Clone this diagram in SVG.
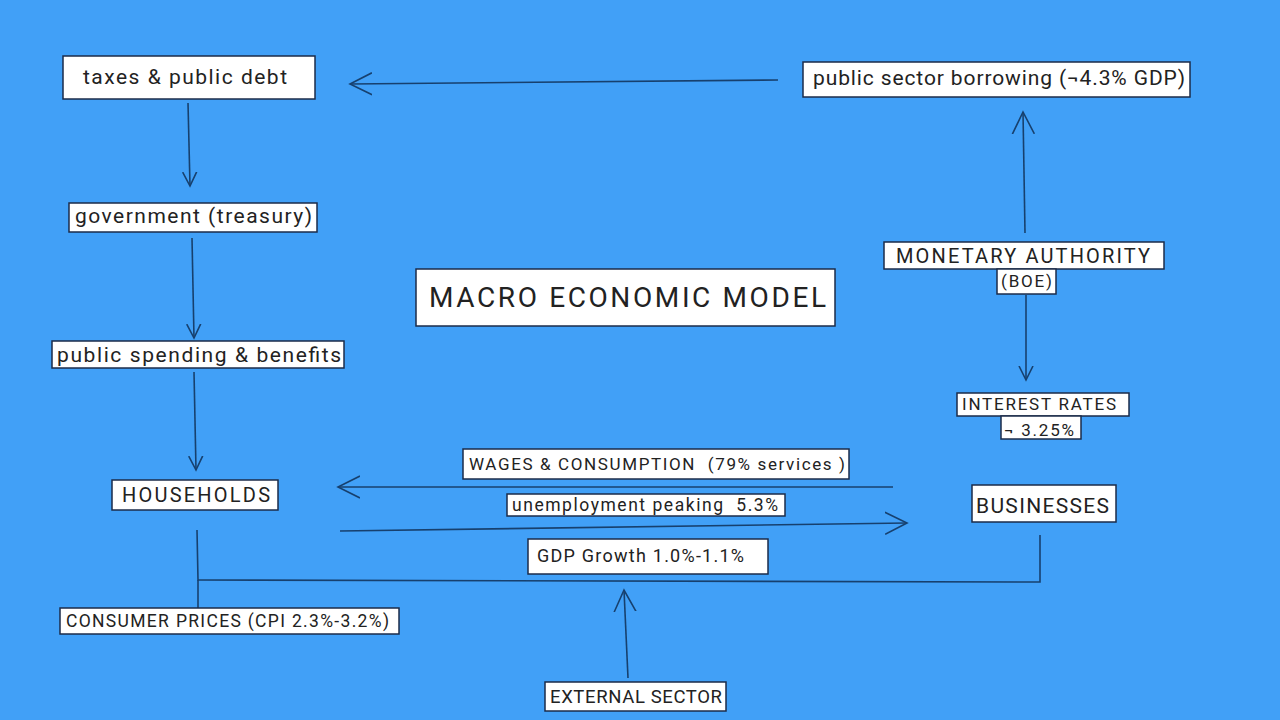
<svg xmlns="http://www.w3.org/2000/svg" width="1280" height="720" viewBox="0 0 1280 720">
<style>
.box{fill:#fff;stroke:#1b2b4a;stroke-width:1.5}
.t{font-family:Roboto,"Liberation Sans",sans-serif;fill:#222}
.c{fill:none;stroke:#17406e;stroke-width:1.6}
</style>
<defs>
<marker id="big" markerUnits="userSpaceOnUse" markerWidth="30" markerHeight="30" refX="22" refY="12" orient="auto" viewBox="0 0 30 24">
<path d="M0,1 L22,12 L0,23" fill="none" stroke="#17406e" stroke-width="1.6"/>
</marker>
<marker id="sm" markerUnits="userSpaceOnUse" markerWidth="20" markerHeight="20" refX="14" refY="8" orient="auto" viewBox="0 0 20 16">
<path d="M0,1 L14,8 L0,15" fill="none" stroke="#17406e" stroke-width="1.6"/>
</marker>
</defs>
<rect width="1280" height="720" fill="#41a0f7"/>

<g id="connectors">
<line class="c" x1="778" y1="80" x2="350" y2="84" marker-end="url(#big)"/>
<line class="c" x1="188" y1="103" x2="190" y2="186" marker-end="url(#sm)"/>
<line class="c" x1="192" y1="238" x2="194" y2="338" marker-end="url(#sm)"/>
<line class="c" x1="194" y1="372" x2="196" y2="470" marker-end="url(#sm)"/>
<line class="c" x1="1025" y1="233" x2="1023" y2="112" marker-end="url(#big)"/>
<line class="c" x1="1026" y1="295" x2="1026" y2="380" marker-end="url(#sm)"/>
<line class="c" x1="893" y1="487" x2="338" y2="487" marker-end="url(#big)"/>
<line class="c" x1="340" y1="531" x2="907" y2="523" marker-end="url(#big)"/>
<polyline class="c" points="197,530 198,580 1040,582 1040,535"/>
<line class="c" x1="198" y1="580" x2="198" y2="608" stroke-width="1"/>
<line class="c" x1="628" y1="678" x2="624" y2="590" marker-end="url(#big)"/>
</g>

<g id="taxes">
<rect class="box" x="63" y="56" width="252" height="43"/>
<text class="t" x="83" y="84" font-size="21" textLength="204" lengthAdjust="spacing">taxes &amp; public debt</text>
</g>
<g id="government">
<rect class="box" x="69" y="203" width="248" height="29"/>
<text class="t" x="75" y="223" font-size="21" textLength="237" lengthAdjust="spacing">government (treasury)</text>
</g>
<g id="spending">
<rect class="box" x="52" y="341" width="292" height="27"/>
<text class="t" x="57" y="362" font-size="21" textLength="284" lengthAdjust="spacing">public spending &amp; benefits</text>
</g>
<g id="households">
<rect class="box" x="112" y="480" width="166" height="30"/>
<text class="t" x="122" y="502" font-size="20" textLength="148" lengthAdjust="spacing">HOUSEHOLDS</text>
</g>
<g id="title">
<rect class="box" x="416" y="269" width="419" height="57"/>
<text class="t" x="429" y="307" font-size="28" textLength="397" lengthAdjust="spacing">MACRO ECONOMIC MODEL</text>
</g>
<g id="borrowing">
<rect class="box" x="803" y="62" width="387" height="35"/>
<text class="t" x="813" y="85" font-size="21" textLength="372" lengthAdjust="spacing">public sector borrowing (¬4.3% GDP)</text>
</g>
<g id="monetary">
<rect class="box" x="884" y="242" width="280" height="27"/>
<text class="t" x="896" y="263" font-size="20" textLength="254" lengthAdjust="spacing">MONETARY AUTHORITY</text>
<rect class="box" x="997" y="269" width="59" height="25"/>
<text class="t" x="1001" y="287" font-size="17" textLength="51" lengthAdjust="spacing">(BOE)</text>
</g>
<g id="interest">
<rect class="box" x="957" y="393" width="172" height="23"/>
<text class="t" x="962" y="410" font-size="17" textLength="154" lengthAdjust="spacing">INTEREST RATES</text>
<rect class="box" x="1001" y="416" width="80" height="23"/>
<text class="t" x="1004" y="436" font-size="17" textLength="70" lengthAdjust="spacing">¬ 3.25%</text>
</g>
<g id="businesses">
<rect class="box" x="972" y="485" width="144" height="37"/>
<text class="t" x="976" y="513" font-size="21" textLength="133" lengthAdjust="spacing">BUSINESSES</text>
</g>
<g id="wages">
<rect class="box" x="463" y="449" width="386" height="30"/>
<text class="t" x="469" y="470" font-size="17" textLength="376" lengthAdjust="spacing" xml:space="preserve">WAGES &amp; CONSUMPTION  (79% services )</text>
</g>
<g id="unemployment">
<rect class="box" x="507" y="494" width="278" height="22"/>
<text class="t" x="512" y="511" font-size="17.5" textLength="266" lengthAdjust="spacing" xml:space="preserve">unemployment peaking  5.3%</text>
</g>
<g id="gdp">
<rect class="box" x="528" y="539" width="240" height="35"/>
<text class="t" x="537" y="562" font-size="18" textLength="207" lengthAdjust="spacing">GDP Growth 1.0%-1.1%</text>
</g>
<g id="cpi">
<rect class="box" x="60" y="608" width="339" height="26"/>
<text class="t" x="66" y="627" font-size="17.5" textLength="323" lengthAdjust="spacing">CONSUMER PRICES (CPI 2.3%-3.2%)</text>
</g>
<g id="external">
<rect class="box" x="545" y="682" width="181" height="29"/>
<text class="t" x="550" y="703" font-size="18.5" textLength="172" lengthAdjust="spacing">EXTERNAL SECTOR</text>
</g>
</svg>
